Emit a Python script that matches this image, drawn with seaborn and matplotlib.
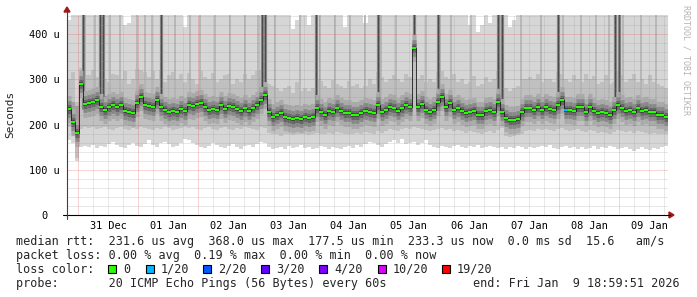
import numpy as np
import pandas as pd
import matplotlib
matplotlib.use("Agg")
import matplotlib.pyplot as plt
import matplotlib.dates as mdates
from matplotlib.ticker import FuncFormatter, MultipleLocator
from matplotlib.patches import Rectangle, Polygon
from matplotlib.lines import Line2D
import seaborn as sns

# ---------------- data (microseconds), one sample per 96 minutes ----------------
start = "2025-12-30 19:30"
median = [235,205,182,290,245,247,250,254,239,232,239,243,239,243,230,228,225,247,261,243,241,239,254,239,232,228,230,227,234,230,
          243,241,245,247,239,232,234,232,243,234,241,239,234,230,236,230,237,243,254,265,228,217,222,225,217,214,212,214,212,217,
          214,217,236,228,221,230,228,236,230,225,225,221,221,225,230,227,225,243,228,232,239,236,230,236,243,239,368,239,245,232,
          228,232,250,261,239,247,232,236,230,225,228,230,221,221,230,232,228,250,227,214,210,210,212,228,236,236,232,239,232,239,
          234,232,243,254,232,232,230,239,239,228,239,230,225,228,225,222,232,243,236,230,232,228,237,230,232,228,227,222,221,217]
smoke_lo = [165,160,120,150,152,150,155,148,152,150,158,162,155,150,148,155,160,152,150,158,165,155,150,160,162,158,150,152,160,168,
            165,160,155,150,148,152,160,155,150,148,152,158,150,146,152,155,150,158,162,160,150,145,148,150,146,152,148,150,155,148,
            150,145,148,152,150,146,150,148,145,150,152,148,155,150,158,162,160,155,150,158,162,165,160,168,158,160,162,155,160,165,
            155,150,148,152,150,148,152,155,150,148,152,150,155,148,150,152,150,148,150,145,150,148,152,150,145,150,148,150,152,150,
            155,148,145,150,152,148,150,146,150,145,148,152,145,150,148,152,150,145,148,150,145,142,146,150,145,143,148,145,150,152]
smoke_hi = [430,460,460,460,460,460,460,460,460,460,460,460,460,460,420,425,460,460,460,460,460,460,460,460,460,460,460,460,460,415,
            460,460,460,460,460,460,460,460,460,460,460,460,460,460,460,460,460,460,460,460,460,460,460,460,460,460,410,430,460,460,
            420,460,460,460,460,460,460,460,460,415,460,460,460,460,425,460,460,460,460,460,460,460,460,460,460,460,460,460,460,460,
            460,460,460,460,460,460,460,460,460,460,420,460,405,420,460,425,460,460,460,460,415,430,460,460,460,460,460,460,460,460,
            460,460,460,460,460,460,460,460,460,460,460,460,460,460,460,460,460,460,460,460,460,460,460,460,460,460,460,460,460,460]
mid_lo = [195,180,125,190,195,192,195,190,192,195,190,188,192,195,190,188,192,190,195,192,190,188,192,190,195,192,188,190,192,195,
          192,195,190,188,192,195,190,188,192,195,190,188,192,190,195,192,190,188,195,192,182,178,180,175,178,180,176,178,180,178,
          176,178,182,180,178,182,180,184,182,178,180,178,182,180,184,182,180,185,182,186,190,188,186,190,192,190,195,192,190,188,
          186,188,190,192,188,190,186,188,185,182,186,184,182,180,184,186,182,188,192,175,172,174,176,180,186,188,186,190,188,190,
          188,186,190,192,188,186,188,190,186,184,188,186,182,184,182,180,184,188,186,184,186,182,185,184,182,180,182,178,180,178]
mid_hi = [300,315,250,325,310,310,320,305,318,300,295,312,310,300,318,290,300,322,320,315,305,318,300,320,295,310,316,300,312,295,
          314,300,290,318,305,300,314,295,300,310,312,290,300,295,312,300,310,318,320,325,290,285,280,275,280,285,270,295,275,280,
          275,280,300,296,285,280,298,290,285,280,296,285,290,280,285,300,290,315,305,295,300,310,300,295,312,305,380,300,310,295,
          300,295,315,318,305,300,312,295,300,290,295,308,285,290,306,295,300,318,305,280,275,280,285,300,300,305,300,312,295,300,
          300,295,316,312,300,295,310,300,295,312,300,308,290,295,310,290,295,318,310,295,300,312,295,300,290,310,295,290,285,280]
dark_hi = [262,250,240,290,268,270,272,275,272,262,265,268,262,266,258,255,255,270,285,265,264,262,275,266,258,255,256,254,260,256,
           266,264,268,270,262,258,260,256,266,258,264,262,258,255,260,255,260,266,275,285,252,245,248,250,245,242,240,242,240,245,
           242,245,262,255,248,255,252,260,255,250,250,248,248,250,255,252,250,265,255,258,262,260,255,260,266,262,380,262,268,258,
           254,258,272,285,262,270,256,260,255,250,254,255,248,248,255,258,254,270,252,242,238,238,240,255,260,260,258,264,258,262,
           260,258,268,275,258,258,255,262,262,255,264,256,250,254,250,248,258,265,262,255,258,254,262,256,258,254,252,248,248,245]
# vertical smoke streaks (position in sample units from the start, reaching the top of the chart)
dark_streaks = [4.0, 8.25, 9.0, 23.5, 48.75, 49.5, 62.25, 77.5, 86.5, 92.5, 107.5, 108.5, 122.5, 136.75, 137.75]
mid_streaks = [4.5, 7.0, 10.75, 13.25, 17.5, 19.5, 21.25, 27.0, 30.75, 33.25, 37.0, 40.75, 44.5, 47.75, 52.0, 58.25,
               63.25, 67.0, 70.75, 74.5, 78.25, 82.0, 89.5, 93.0, 95.75, 100.75, 108.25, 113.25, 118.25, 123.75,
               128.25, 132.0, 135.25, 138.75, 143.25, 147.0]
loss = [0,0,0,0,0,0,0,0,0,0,0,0,0,0,0,0,0,0,0,0,0,0,0,0,0,0,0,0,0,0,
        0,0,0,0,0,0,0,0,0,0,0,0,0,0,0,0,0,0,0,0,0,0,0,0,0,0,0,0,0,0,
        0,0,0,0,0,0,0,0,0,0,0,0,0,0,0,0,0,0,0,0,0,0,0,0,0,0,0,0,0,0,
        0,0,0,0,0,0,0,0,0,0,0,0,0,0,0,0,0,0,0,0,0,0,0,0,0,0,0,0,0,0,
        0,0,0,0,1,0,0,0,0,0,0,0,0,0,0,0,0,0,0,0,0,0,0,0,0,0,0,0,0,0]
loss_labels = ["0", "1/20", "2/20", "3/20", "4/20", "10/20", "19/20"]
loss_colors = ["#26ff00", "#00b8ff", "#0059ff", "#5e00ff", "#7e00ff", "#dd00ff", "#ff0000"]
y_ticks = [0, 100, 200, 300, 400]

# ---------------- figure ----------------
sns.set_theme(style="white")
plt.rcParams["font.family"] = ["DejaVu Sans Mono", "DejaVu Sans"]
W, H = 697, 297
fig = plt.figure(figsize=(W / 100, H / 100), dpi=100, facecolor="white")
L, T, R, B = 67, 15, 668, 215
ax = fig.add_axes([L / W, 1 - B / H, (R - L) / W, (B - T) / H])
ax.set_facecolor("white")

n = len(median)
edges = pd.date_range(start, periods=n + 1, freq="96min")
en = mdates.date2num(edges)
x0 = en[:-1]
wd = en[1] - en[0]
med = np.array(median, float)

lo = np.array(smoke_lo, float); hi = np.array(smoke_hi, float)
mlo = np.array(mid_lo, float); mhi = np.array(mid_hi, float)
dhi = np.array(dark_hi, float)

ax.bar(x0, hi - lo, bottom=lo, width=wd, align="edge", color="#d6d6d6", lw=0, zorder=1)
ax.bar(x0, mhi - mlo, bottom=mlo, width=wd, align="edge", color="#c0c0c0", lw=0, zorder=1.1)
ax.bar(x0, dhi - med, bottom=med, width=wd, align="edge", color="#a0a0a0", lw=0, zorder=1.2)

ms = np.array(mid_streaks)
ax.vlines(en[0] + ms * wd, med[ms.astype(int)], 460, colors="#b2b2b2", lw=1.2, zorder=1.3)
ds = np.array(dark_streaks)
ax.vlines(en[0] + ds * wd, med[ds.astype(int)] - 10, 460, colors="#8e8e8e", lw=2.3, zorder=1.33)
ax.vlines(en[0] + ds * wd, med[ds.astype(int)] - 10, 460, colors="#4a4a4a", lw=0.95, zorder=1.35)

# smoke density around the median (per-sample columns)
for lw_, c_ in [(19.5, "#aaaaaa"), (12.0, "#888888"), (6.5, "#666666"), (2.8, "#424242")]:
    ax.hlines(med, x0, x0 + wd, colors=c_, lw=lw_, zorder=1.5, capstyle="butt")

sns.lineplot(x=x0, y=med, drawstyle="steps-post", color="#1a1a1a", lw=0.6, ax=ax, zorder=4)
cols = [loss_colors[k] for k in loss]
ax.hlines(med, x0, x0 + wd, colors=cols, lw=1.5, zorder=5)

ax.set_xlim(en[0], en[-1])
ax.set_ylim(0, 442)

# grid / ticks
ax.xaxis.set_major_locator(mdates.DayLocator())
ax.xaxis.set_minor_locator(mdates.HourLocator(byhour=[6, 12, 18]))
ax.xaxis.set_major_formatter(FuncFormatter(lambda v, p: ""))
ax.xaxis.set_minor_formatter(FuncFormatter(
    lambda v, p: mdates.num2date(v).strftime("%d %b") if mdates.num2date(v).hour == 12 else ""))
ax.set_yticks(y_ticks)
ax.yaxis.set_minor_locator(MultipleLocator(20))
ax.set_yticklabels(["0  " if v == 0 else f"{v} u" for v in y_ticks])
ax.set_axisbelow(False)
ax.grid(which="major", color="#e05050", alpha=0.5, lw=0.72, linestyle=(0, (1, 1)), zorder=3)
ax.grid(which="minor", color="#909090", alpha=0.4, lw=0.72, linestyle=(0, (1, 1)), zorder=3)
ax.tick_params(axis="both", which="both", labelsize=7.4, colors="black", direction="out")
ax.tick_params(axis="x", which="major", length=3, width=0.7, color="#e05050")
ax.tick_params(axis="x", which="minor", length=2, width=0.7, pad=2.5, color="#909090")
ax.tick_params(axis="y", which="major", length=2, width=0.7, pad=3, color="#e05050")
ax.tick_params(axis="y", which="minor", length=0)
for s in ax.spines.values():
    s.set_visible(False)
ax.set_xlabel(""); ax.set_ylabel("")

def fx(x): return x / W
def fy(y): return 1 - y / H

fig.add_artist(Line2D([fx(63), fx(670)], [fy(215), fy(215)], color="black", lw=0.8))
fig.add_artist(Line2D([fx(67), fx(67)], [fy(219), fy(11)], color="#404040", lw=0.8))
fig.add_artist(Polygon([[fx(64), fy(12)], [fx(70), fy(12)], [fx(67), fy(7)]], closed=True, color="#a01818"))
fig.add_artist(Polygon([[fx(669), fy(212)], [fx(669), fy(218)], [fx(674), fy(215)]], closed=True, color="#a01818"))

fig.text(fx(10), fy(114), "Seconds", rotation=90, ha="center", va="center", fontsize=8)
fig.text(fx(686), fy(5), "RRDTOOL / TOBI OETIKER", rotation=-90, ha="center", va="top",
         fontsize=6, color="#b4b4b4")

fs = 8.5
fig.text(fx(16), fy(241.5), "median rtt:  231.6 us avg  368.0 us max  177.5 us min  233.3 us now  0.0 ms sd  15.6   am/s",
         fontsize=fs, va="center")
fig.text(fx(16), fy(255.5), "packet loss: 0.00 % avg  0.19 % max  0.00 % min  0.00 % now",
         fontsize=fs, va="center")
fig.text(fx(16), fy(269.5), "loss color:", fontsize=fs, va="center")
box_x = [108, 146, 203, 261, 319, 378, 442]
for bx, lab, col in zip(box_x, loss_labels, loss_colors):
    fig.add_artist(Rectangle((fx(bx), fy(273)), 8 / W, 8 / H, facecolor=col, edgecolor="black", lw=0.8))
    fig.text(fx(bx + 15), fy(269.5), lab, fontsize=fs, va="center")
fig.text(fx(16), fy(283.5), "probe:       20 ICMP Echo Pings (56 Bytes) every 60s", fontsize=fs, va="center")
fig.text(fx(680), fy(283.5), "end: Fri Jan  9 18:59:51 2026", fontsize=fs, va="center", ha="right")

fig.savefig("out.png", dpi=100, facecolor="white")
